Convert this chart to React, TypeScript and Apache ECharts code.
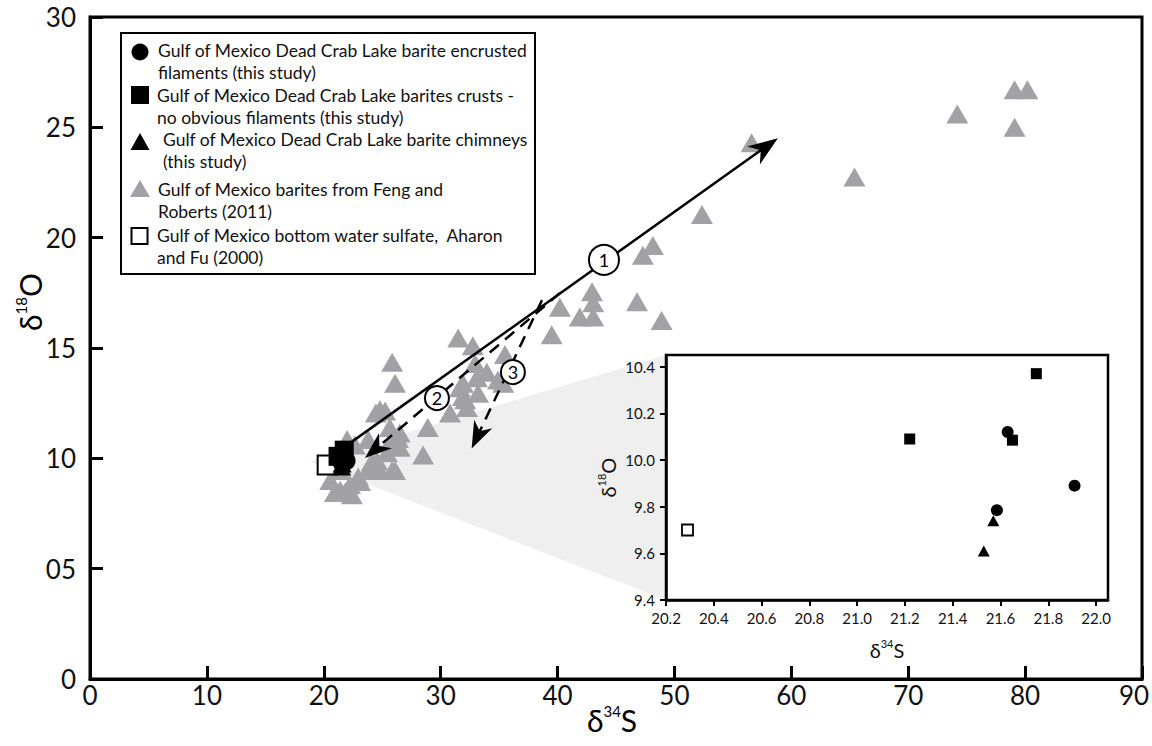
import { useEffect, useRef } from "react";
import * as echarts from "echarts";

const FONT = 'Lato, "Open Sans", "Noto Sans", sans-serif';

// ---- axes ----
const mainXTicks = [0, 10, 20, 30, 40, 50, 60, 70, 80, 90];
const mainYTickLabels = ["0", "05", "10", "15", "20", "25", "30"];
const insetXTicks = [20.2, 20.4, 20.6, 20.8, 21.0, 21.2, 21.4, 21.6, 21.8, 22.0];
const insetYTicks = [9.4, 9.6, 9.8, 10.0, 10.2, 10.4];
const insetXRange = [20.2, 22.05];
const insetYRange = [9.4, 10.45];

// ---- data (δ34S, δ18O) ----
const encrustedFilaments = [
  [21.63, 10.12],
  [21.585, 9.785],
  [21.91, 9.89],
];
const bariteCrusts = [
  [21.22, 10.09],
  [21.65, 10.085],
  [21.75, 10.37],
];
const bariteChimneys = [
  [21.57, 9.74],
  [21.53, 9.61],
];
const bottomWaterSulfate = [[20.29, 9.7]];
const fengRoberts2011 = [
  [56.6, 24.3], [65.4, 22.75], [74.2, 25.6], [79.1, 26.7], [80.2, 26.7], [79.1, 25.0],
  [52.35, 21.05], [48.15, 19.65], [47.3, 19.2], [42.95, 17.55], [43.05, 17.05], [40.2, 16.85],
  [46.8, 17.1], [41.9, 16.4], [43.05, 16.4], [48.9, 16.25], [39.5, 15.6], [31.5, 15.45],
  [32.75, 15.1], [25.85, 14.35], [26.1, 13.4], [35.5, 14.7], [32.95, 14.3], [33.95, 13.9],
  [33.1, 13.65], [31.9, 13.4], [35.35, 13.4], [31.65, 13.2], [33.2, 12.95], [31.9, 12.8],
  [32.1, 12.65], [30.8, 12.05], [32.25, 12.3], [28.9, 11.4], [28.5, 10.15], [24.8, 12.2],
  [24.45, 12.05], [25.25, 12.15], [25.65, 11.4], [26.5, 11.15], [26.5, 10.5], [25.4, 10.25],
  [25.85, 9.45], [24.55, 9.9], [23.8, 9.45], [23.1, 8.95], [22.25, 8.8], [21.4, 8.55],
  [20.95, 8.45], [22.0, 10.85], [22.65, 10.6], [23.8, 10.85], [22.95, 9.15], [24.8, 9.45],
  [26.35, 10.9], [25.65, 10.7], [26.1, 9.45], [24.1, 9.85], [21.8, 8.45], [22.4, 8.35],
  [34.9, 13.55], [21.4, 9.45], [20.55, 9.0],
];

// ---- annotations: arrows [x1, y1, x2(tip), y2(tip), dashed] ----
const arrowPaths = [
  [22.24, 10.69, 58.85, 24.51, 0],
  [40.21, 17.49, 23.52, 10.01, 1],
  [38.67, 17.17, 32.65, 10.45, 1],
];
const arrowLabels = [
  { name: "1", value: [43.97, 18.99] },
  { name: "2", value: [29.68, 12.73] },
  { name: "3", value: [36.18, 13.91] },
];
const wedgeApex = [18.8, 9.85];

const legendLines = [
  ["Gulf of Mexico Dead Crab Lake barite encrusted", "filaments (this study)"],
  ["Gulf of Mexico Dead Crab Lake barites crusts -", "no obvious filaments (this study)"],
  ["Gulf of Mexico Dead Crab Lake barite chimneys", "(this study)"],
  ["Gulf of Mexico barites from Feng and", "Roberts (2011)"],
  ["Gulf of Mexico bottom water sulfate,  Aharon", "and Fu (2000)"],
];

const GRAY = "#a2a2a6";

export default function App() {
  const ref = useRef<HTMLDivElement>(null);

  useEffect(() => {
    if (!ref.current) return;
    const chart = echarts.init(ref.current, undefined, { renderer: "svg" });

    const rich = (big: number, small: number) => ({
      d: { fontSize: big, fontFamily: FONT, color: "#111", lineHeight: big + 4 },
      s: { fontSize: small, fontFamily: FONT, color: "#111", verticalAlign: "top", lineHeight: small + 4 },
    });

    const arrowRender = (params: any, api: any) => {
      const p1 = api.coord([api.value(0), api.value(1)]);
      const p2 = api.coord([api.value(2), api.value(3)]);
      const dashed = api.value(4) === 1;
      const L = dashed ? 27 : 30;
      const W = dashed ? 10 : 11;
      const dx = p2[0] - p1[0];
      const dy = p2[1] - p1[1];
      const len = Math.sqrt(dx * dx + dy * dy);
      const ux = dx / len;
      const uy = dy / len;
      const nx = -uy;
      const ny = ux;
      const back = [p2[0] - ux * L, p2[1] - uy * L];
      const notch = [p2[0] - ux * L * 0.7, p2[1] - uy * L * 0.7];
      return {
        type: "group",
        children: [
          {
            type: "line",
            shape: { x1: p1[0], y1: p1[1], x2: notch[0], y2: notch[1] },
            style: { stroke: "#000", lineWidth: 2.5, lineDash: dashed ? [12, 8] : null, fill: null },
          },
          {
            type: "polygon",
            shape: {
              points: [
                [p2[0], p2[1]],
                [back[0] + nx * W, back[1] + ny * W],
                notch,
                [back[0] - nx * W, back[1] - ny * W],
              ],
            },
            style: { fill: "#000" },
          },
        ],
      };
    };

    const legendItemY = [50, 95, 139, 189, 235];
    const legendTextX = [158, 157, 163, 158, 157];
    const legendGraphic: any[] = [
      {
        type: "rect",
        shape: { x: 121, y: 33, width: 414, height: 241 },
        style: { fill: "#fff", stroke: "#000", lineWidth: 2 },
        z: 10,
      },
      { type: "circle", shape: { cx: 140, cy: 52, r: 8.5 }, style: { fill: "#000" }, z: 11 },
      { type: "rect", shape: { x: 131, y: 86, width: 18, height: 18 }, style: { fill: "#000" }, z: 11 },
      {
        type: "polygon",
        shape: { points: [[140, 133], [149.5, 150], [130.5, 150]] },
        style: { fill: "#000" },
        z: 11,
      },
      {
        type: "polygon",
        shape: { points: [[140, 180], [150, 197], [130, 197]] },
        style: { fill: GRAY },
        z: 11,
      },
      {
        type: "rect",
        shape: { x: 131.5, y: 228, width: 16, height: 16 },
        style: { fill: "#fff", stroke: "#000", lineWidth: 2 },
        z: 11,
      },
    ];
    legendLines.forEach((lines, i) => {
      legendGraphic.push({
        type: "text",
        x: legendTextX[i],
        y: legendItemY[i] - 11,
        z: 11,
        style: {
          text: lines.join("\n"),
          font: `17.5px ${FONT}`,
          fill: "#111",
          lineHeight: 22,
          verticalAlign: "top",
          align: "left",
        },
      });
    });

    const titleGraphic: any[] = [
      {
        type: "text",
        x: 612,
        y: 720,
        style: {
          text: "{d|δ}{s|34}{d|S}",
          rich: rich(30, 15),
          align: "center",
          verticalAlign: "middle",
        },
      },
      {
        type: "text",
        x: 30,
        y: 302,
        rotation: Math.PI / 2,
        style: {
          text: "{d|δ}{s|18}{d|O}",
          rich: rich(30, 15),
          align: "center",
          verticalAlign: "middle",
        },
      },
    ];

    const mainAxisCommon = {
      axisLine: { show: true, onZero: false, lineStyle: { color: "#000", width: 3 } },
      axisTick: { show: true, inside: true, length: 13, lineStyle: { color: "#000", width: 3 } },
      splitLine: { show: false },
    };
    const insetAxisCommon = {
      axisLine: { show: true, onZero: false, lineStyle: { color: "#000", width: 2.5 } },
      splitLine: { show: false },
    };

    chart.setOption({
      animation: false,
      backgroundColor: "#fff",
      grid: [
        {
          left: 90,
          top: 17,
          width: 1052,
          height: 662,
          show: true,
          borderColor: "#000",
          borderWidth: 3,
          backgroundColor: "transparent",
          outerBoundsMode: "none",
          containLabel: false,
        },
        {
          left: 666,
          top: 355,
          width: 442,
          height: 245,
          show: true,
          borderColor: "#000",
          borderWidth: 2.5,
          backgroundColor: "#fff",
          outerBoundsMode: "none",
          containLabel: false,
          z: 6,
        },
      ],
      xAxis: [
        {
          type: "value",
          gridIndex: 0,
          min: mainXTicks[0],
          max: mainXTicks[mainXTicks.length - 1],
          interval: 10,
          ...mainAxisCommon,
          axisLabel: {
            fontSize: 26,
            fontFamily: FONT,
            color: "#111",
            margin: 3,
            formatter: (v: number) =>
              v === mainXTicks[mainXTicks.length - 1] ? `{r|${v}}` : `${v}`,
            rich: { r: { fontSize: 26, fontFamily: FONT, color: "#111", padding: [0, 16, 0, 0] } },
          },
        },
        {
          type: "value",
          gridIndex: 1,
          min: insetXRange[0],
          max: insetXRange[1],
          z: 7,
          ...insetAxisCommon,
          axisTick: {
            show: true,
            inside: false,
            length: 6,
            customValues: insetXTicks,
            lineStyle: { color: "#000", width: 2 },
          },
          axisLabel: {
            customValues: insetXTicks,
            formatter: (v: number) => v.toFixed(1),
            fontSize: 15,
            fontFamily: FONT,
            color: "#111",
            margin: 10,
          },
          name: "{d|δ}{s|34}{d|S}",
          nameLocation: "middle",
          nameGap: 38,
          nameTextStyle: { rich: rich(20, 11) },
        },
      ],
      yAxis: [
        {
          type: "value",
          gridIndex: 0,
          min: 0,
          max: 30,
          interval: 5,
          ...mainAxisCommon,
          axisLabel: {
            fontSize: 26,
            fontFamily: FONT,
            color: "#111",
            margin: 14,
            formatter: (v: number) => mainYTickLabels[Math.round(v / 5)],
          },
        },
        {
          type: "value",
          gridIndex: 1,
          min: insetYRange[0],
          max: insetYRange[1],
          z: 7,
          ...insetAxisCommon,
          axisTick: {
            show: true,
            inside: false,
            length: 6,
            customValues: insetYTicks,
            lineStyle: { color: "#000", width: 2 },
          },
          axisLabel: {
            customValues: insetYTicks,
            formatter: (v: number) => v.toFixed(1),
            fontSize: 15,
            fontFamily: FONT,
            color: "#111",
            margin: 11,
          },
          name: "{d|δ}{s|18}{d|O}",
          nameLocation: "middle",
          nameGap: 46,
          nameRotate: 90,
          nameTextStyle: { rich: rich(20, 11) },
        },
      ],
      series: [
        {
          name: legendLines[3].join(" "),
          type: "scatter",
          xAxisIndex: 0,
          yAxisIndex: 0,
          symbol: "triangle",
          symbolSize: [22, 19],
          itemStyle: { color: GRAY, opacity: 1 },
          data: fengRoberts2011,
          z: 2,
        },
        {
          name: legendLines[4].join(" "),
          type: "scatter",
          xAxisIndex: 0,
          yAxisIndex: 0,
          symbol: "rect",
          symbolSize: 19,
          itemStyle: { color: "#fff", borderColor: "#000", borderWidth: 2, opacity: 1 },
          data: bottomWaterSulfate,
          z: 3,
        },
        {
          name: legendLines[1].join(" "),
          type: "scatter",
          xAxisIndex: 0,
          yAxisIndex: 0,
          symbol: "rect",
          symbolSize: 19,
          itemStyle: { color: "#000", opacity: 1 },
          data: bariteCrusts,
          z: 3,
        },
        {
          name: legendLines[2].join(" "),
          type: "scatter",
          xAxisIndex: 0,
          yAxisIndex: 0,
          symbol: "triangle",
          symbolSize: [19, 17],
          itemStyle: { color: "#000", opacity: 1 },
          data: bariteChimneys,
          z: 3,
        },
        {
          name: legendLines[0].join(" "),
          type: "scatter",
          xAxisIndex: 0,
          yAxisIndex: 0,
          symbol: "circle",
          symbolSize: 19,
          itemStyle: { color: "#000", opacity: 1 },
          data: encrustedFilaments,
          z: 3,
        },
        {
          name: "pathways",
          type: "custom",
          xAxisIndex: 0,
          yAxisIndex: 0,
          renderItem: arrowRender,
          encode: { x: [0, 2], y: [1, 3] },
          data: arrowPaths,
          z: 4,
          silent: true,
        },
        {
          name: "pathway labels",
          type: "scatter",
          xAxisIndex: 0,
          yAxisIndex: 0,
          symbol: "circle",
          symbolSize: (v: any, p: any) => (p.name === "1" ? 30 : 24),
          itemStyle: { color: "#fff", borderColor: "#000", borderWidth: 2, opacity: 1 },
          label: {
            show: true,
            position: "inside",
            formatter: "{b}",
            fontFamily: FONT,
            color: "#000",
            fontSize: 18,
          },
          data: arrowLabels,
          z: 5,
        },
        // inset
        {
          name: "inset bottom water",
          type: "scatter",
          xAxisIndex: 1,
          yAxisIndex: 1,
          symbol: "rect",
          symbolSize: 11,
          itemStyle: { color: "#fff", borderColor: "#000", borderWidth: 1.8, opacity: 1 },
          data: bottomWaterSulfate,
          z: 8,
        },
        {
          name: "inset crusts",
          type: "scatter",
          xAxisIndex: 1,
          yAxisIndex: 1,
          symbol: "rect",
          symbolSize: 11,
          itemStyle: { color: "#000", opacity: 1 },
          data: bariteCrusts,
          z: 8,
        },
        {
          name: "inset chimneys",
          type: "scatter",
          xAxisIndex: 1,
          yAxisIndex: 1,
          symbol: "triangle",
          symbolSize: [12, 11],
          itemStyle: { color: "#000", opacity: 1 },
          data: bariteChimneys,
          z: 8,
        },
        {
          name: "inset filaments",
          type: "scatter",
          xAxisIndex: 1,
          yAxisIndex: 1,
          symbol: "circle",
          symbolSize: 12,
          itemStyle: { color: "#000", opacity: 1 },
          data: encrustedFilaments,
          z: 8,
        },
      ],
      graphic: { elements: [...legendGraphic, ...titleGraphic] },
    });

    const apex = chart.convertToPixel({ xAxisIndex: 0, yAxisIndex: 0 }, wedgeApex) as number[];
    const topCorner = chart.convertToPixel({ xAxisIndex: 1, yAxisIndex: 1 }, [insetXRange[0], insetYRange[1]]) as number[];
    const botCorner = chart.convertToPixel({ xAxisIndex: 1, yAxisIndex: 1 }, [insetXRange[0], insetYRange[0]]) as number[];
    chart.setOption({
      graphic: {
        elements: [
          {
            id: "wedge",
            type: "polygon",
            z: -1,
            shape: { points: [apex, topCorner, botCorner] },
            style: { fill: "#efefef" },
          },
        ],
      },
    });

    return () => chart.dispose();
  }, []);

  return (
    <div
      ref={ref}
      style={{ position: "absolute", left: 0, top: 0, width: 1152, height: 746 }}
    />
  );
}
